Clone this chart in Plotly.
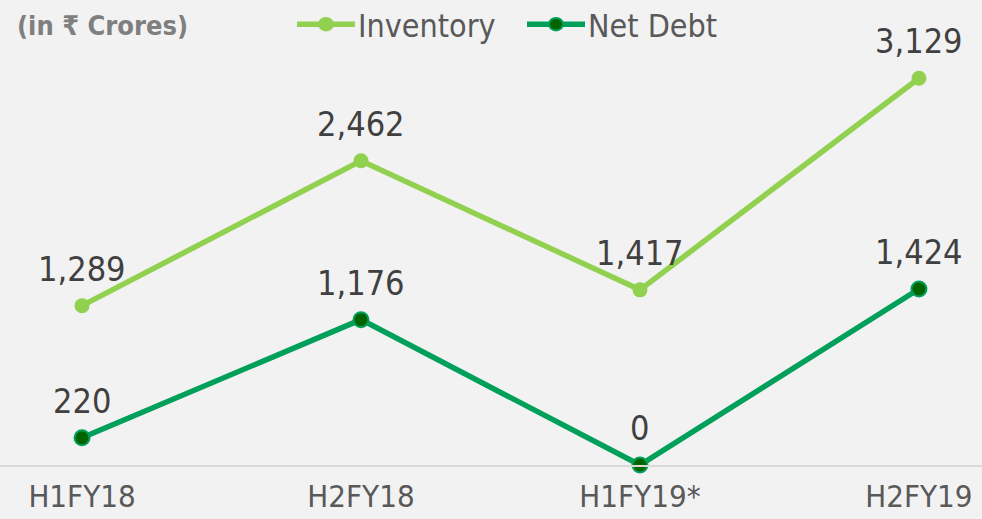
import plotly.graph_objects as go

periods = ["H1FY18", "H2FY18", "H1FY19*", "H2FY19"]
inventory = [1289, 2462, 1417, 3129]
net_debt = [220, 1176, 0, 1424]

FONT = "DejaVu Sans Condensed, Liberation Sans Narrow, Arial Narrow, sans-serif"
INV_COLOR = "#92D050"
DEBT_COLOR = "#00A05A"
DEBT_MARKER = "#006400"
LABEL_COLOR = "#404040"
W, H = 982, 519

xs = list(range(len(periods)))

fig = go.Figure()
fig.add_trace(go.Scatter(
    x=xs, y=inventory, name="Inventory", mode="lines+markers",
    line=dict(color=INV_COLOR, width=5.5),
    marker=dict(color=INV_COLOR, size=15, line=dict(color=INV_COLOR, width=0)),
    cliponaxis=False,
))
fig.add_trace(go.Scatter(
    x=xs, y=net_debt, name="Net Debt", mode="lines+markers",
    line=dict(color=DEBT_COLOR, width=5.5),
    marker=dict(color=DEBT_MARKER, size=15, line=dict(color=DEBT_COLOR, width=2)),
    cliponaxis=False,
))

# value labels above each point
for series in (inventory, net_debt):
    for x, v in zip(xs, series):
        fig.add_annotation(
            x=x, y=v, text=f"{v:,}", showarrow=False, yshift=37,
            font=dict(family=FONT, size=34, color=LABEL_COLOR),
            xanchor="center", yanchor="middle",
        )

fig.add_annotation(
    x=15 / W, y=1 - 28 / H, xref="paper", yref="paper", xanchor="left", yanchor="middle",
    text="<b>(in ₹ Crores)</b>", showarrow=False,
    font=dict(family=FONT, size=27, color="#7F7F7F"),
)

# legend drawn as line + dot + label pairs along the top
legend_items = [("Inventory", INV_COLOR, INV_COLOR, 297), ("Net Debt", DEBT_COLOR, DEBT_MARKER, 527)]
cy = 27
ly = 1 - cy / H
for name, lc, mc, x0 in legend_items:
    fig.add_shape(type="line", xref="paper", yref="paper",
                  x0=x0 / W, x1=(x0 + 58) / W, y0=ly, y1=ly,
                  line=dict(color=lc, width=5.5))
    cx, r = x0 + 29, 7
    fig.add_shape(type="circle", xref="paper", yref="paper",
                  x0=(cx - r) / W, x1=(cx + r) / W, y0=1 - (cy + r) / H, y1=1 - (cy - r) / H,
                  fillcolor=mc, line=dict(color=lc, width=2))
    fig.add_annotation(x=(x0 + 59) / W, y=1 - (cy + 2) / H, xref="paper", yref="paper",
                       xanchor="left", yanchor="middle", text=name, showarrow=False,
                       font=dict(family=FONT, size=32, color="#595959"))

fig.update_layout(
    width=W, height=H,
    margin=dict(l=0, r=0, t=0, b=54),
    paper_bgcolor="#F2F2F2", plot_bgcolor="#F2F2F2",
    font=dict(family=FONT, color="#595959"),
    showlegend=False,
    xaxis=dict(
        range=[-0.294, 3.226], tickvals=xs, ticktext=periods,
        showgrid=False, zeroline=False, showline=True, linecolor="#D9D9D9", linewidth=2,
        ticks="outside", ticklen=3, tickcolor="rgba(0,0,0,0)",
        tickfont=dict(family=FONT, size=31, color="#595959"),
        automargin=False, fixedrange=True,
    ),
    yaxis=dict(
        range=[0, 3762], showgrid=False, zeroline=False, showticklabels=False,
        showline=False, fixedrange=True, automargin=False,
    ),
)

fig.write_html("out.html")
